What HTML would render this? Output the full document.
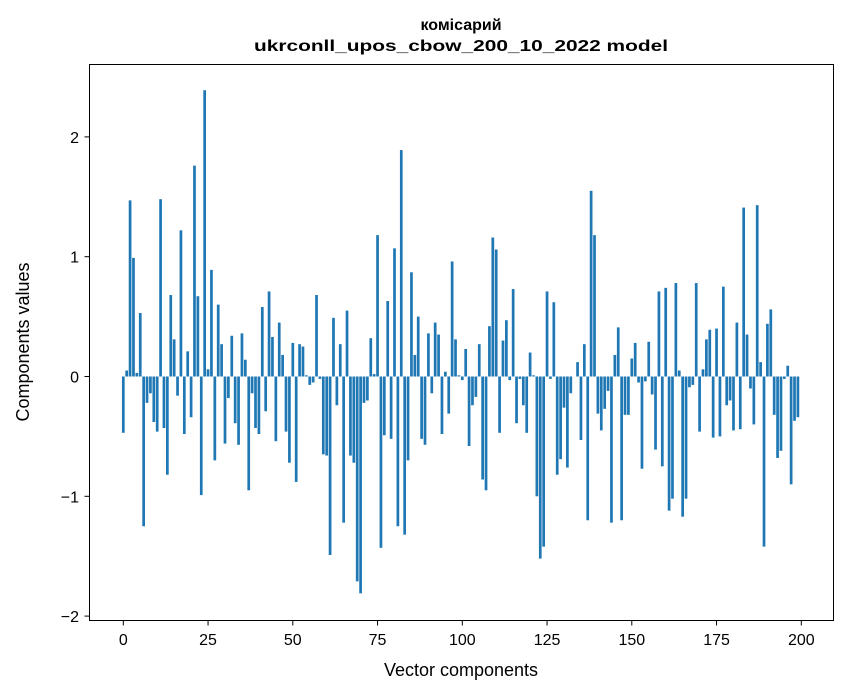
<!DOCTYPE html>
<html><head><meta charset="utf-8"><style>
html,body{margin:0;padding:0;background:#fff;width:847px;height:696px;overflow:hidden}
text{font-family:"Liberation Sans","DejaVu Sans",sans-serif}
</style></head><body>
<svg id="chart" width="847" height="696" xmlns="http://www.w3.org/2000/svg">
<rect x="0" y="0" width="847" height="696" fill="#fff"/>
<text x="461" y="30" text-anchor="middle" font-size="16" font-weight="bold">комісарий</text>
<text x="461" y="51" text-anchor="middle" font-size="16" font-weight="bold" textLength="414" lengthAdjust="spacingAndGlyphs">ukrconll_upos_cbow_200_10_2022 model</text>
<g id="bars"></g>
<g id="axes"></g>
<rect x="89.5" y="64.5" width="744" height="556" fill="none" stroke="#000" stroke-width="1"/>
<text x="461" y="676" text-anchor="middle" font-size="18">Vector components</text>
<text x="29" y="342" text-anchor="middle" font-size="18" transform="rotate(-90 29 342)">Components values</text>
</svg>
<script>
const values = [-0.47,0.05,1.47,0.99,0.03,0.53,-1.25,-0.22,-0.14,-0.38,
-0.46,1.48,-0.43,-0.82,0.68,0.31,-0.16,1.22,-0.48,0.21,
-0.34,1.76,0.67,-0.99,2.39,0.06,0.89,-0.70,0.60,0.27,
-0.56,-0.18,0.34,-0.39,-0.57,0.36,0.14,-0.95,-0.14,-0.43,
-0.48,0.58,-0.29,0.71,0.33,-0.54,0.45,0.18,-0.46,-0.72,
0.28,-0.88,0.27,0.25,0.01,-0.07,-0.05,0.68,-0.02,-0.65,
-0.66,-1.49,0.49,-0.24,0.27,-1.22,0.55,-0.66,-0.72,-1.71,
-1.81,-0.22,-0.20,0.32,0.02,1.18,-1.43,-0.49,0.63,-0.52,
1.07,-1.25,1.89,-1.32,-0.70,0.87,0.18,0.50,-0.52,-0.57,
0.36,-0.14,0.45,0.35,-0.48,0.04,-0.31,0.96,0.31,0.01,
-0.03,0.23,-0.58,-0.24,-0.17,0.27,-0.86,-0.95,0.42,1.16,
1.06,-0.47,0.30,0.47,-0.03,0.73,-0.39,-0.02,-0.24,-0.47,
0.20,0.01,-1.00,-1.52,-1.42,0.71,-0.02,0.62,-0.82,-0.69,
-0.26,-0.76,-0.14,0.00,0.12,-0.53,0.27,-1.20,1.55,1.18,
-0.31,-0.45,-0.27,-0.12,-1.22,0.18,0.41,-1.20,-0.32,-0.32,
0.15,0.28,-0.05,-0.77,-0.04,0.29,-0.15,-0.61,0.71,-0.75,
0.74,-1.12,-1.02,0.78,0.05,-1.17,-1.02,-0.09,-0.07,0.78,
-0.46,0.06,0.31,0.39,-0.51,0.40,-0.50,0.75,-0.24,-0.20,
-0.45,0.45,-0.44,1.41,0.35,-0.10,-0.40,1.43,0.12,-1.42,
0.44,0.56,-0.32,-0.68,-0.62,-0.02,0.09,-0.90,-0.37,-0.34];
const xTicks = [0,25,50,75,100,125,150,175,200];
const yTicks = [-2,-1,0,1,2];
const yTickLabels = ["\u22122","\u22121","0","1","2"];

const NS = "http://www.w3.org/2000/svg";
function xScale(v){ return 123.3 + (v) * (801.3-123.3)/200; }
function yScale(v){ return 376.5 - v * 119.8; }
const barsG = document.getElementById('bars');
const axesG = document.getElementById('axes');
const bw = 0.8*(801.3-123.3)/200;
values.forEach((v,i)=>{
  const r = document.createElementNS(NS,'rect');
  
  
  const y0 = yScale(0), y1 = yScale(v);
  r.setAttribute('x', xScale(i)-bw/2);
  r.setAttribute('y', Math.min(y0,y1));
  r.setAttribute('width', bw);
  r.setAttribute('height', Math.abs(y1-y0));
  r.setAttribute('fill', '#1f77b4');
  barsG.appendChild(r);
});
xTicks.forEach(t=>{
  const x = xScale(t);
  const l = document.createElementNS(NS,'line');
  
  
  l.setAttribute('x1',x); l.setAttribute('x2',x);
  l.setAttribute('y1',620.5); l.setAttribute('y2',625.5);
  l.setAttribute('stroke','#000');
  axesG.appendChild(l);
  const tx = document.createElementNS(NS,'text');
  
  
  tx.setAttribute('x',x); tx.setAttribute('y',645);
  tx.setAttribute('text-anchor','middle'); tx.setAttribute('font-size','16');
  tx.textContent = String(t);
  axesG.appendChild(tx);
});
yTicks.forEach((t,i)=>{
  const y = yScale(t);
  const l = document.createElementNS(NS,'line');
  
  
  l.setAttribute('x1',84.5); l.setAttribute('x2',89.5);
  l.setAttribute('y1',y); l.setAttribute('y2',y);
  l.setAttribute('stroke','#000');
  axesG.appendChild(l);
  const tx = document.createElementNS(NS,'text');
  
  
  tx.setAttribute('x',79); tx.setAttribute('y',y+6);
  tx.setAttribute('text-anchor','end'); tx.setAttribute('font-size','16');
  tx.textContent = yTickLabels[i];
  axesG.appendChild(tx);
});
</script>
</body></html>
